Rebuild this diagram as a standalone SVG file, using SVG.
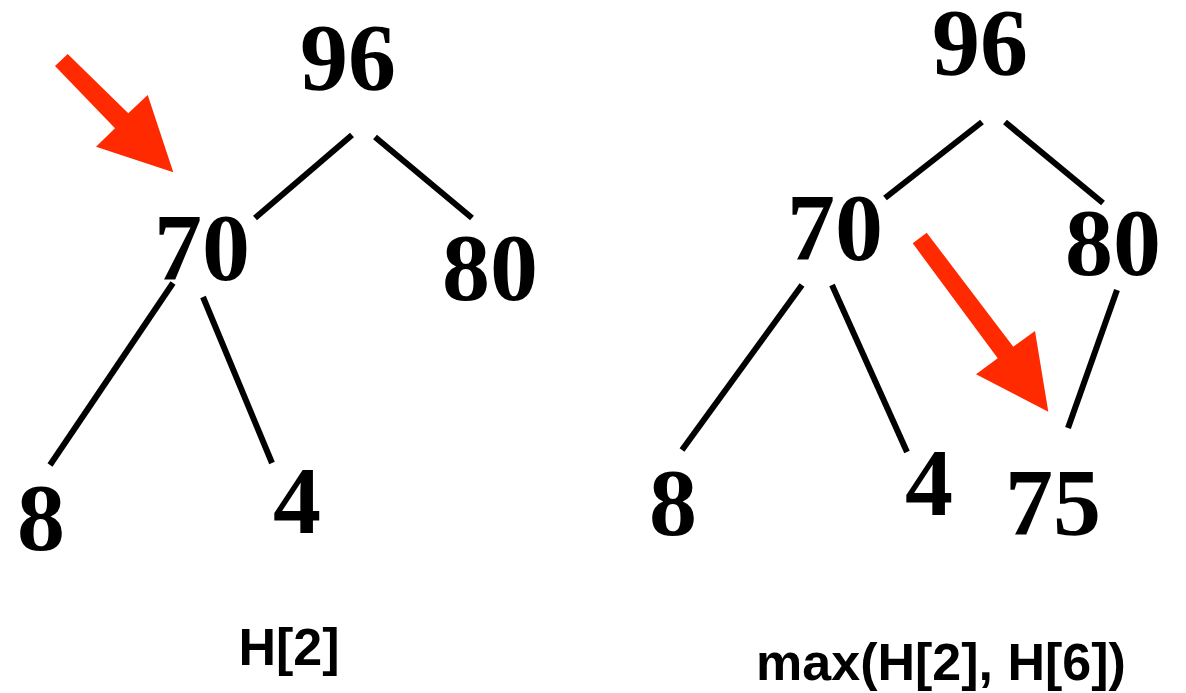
<svg xmlns="http://www.w3.org/2000/svg" width="1186" height="693" viewBox="0 0 1186 693">
<style>
.n{font-family:"Liberation Serif","Times New Roman",serif;font-weight:bold;font-size:96px;fill:#000;text-anchor:middle}
.l{font-family:"Liberation Sans",Arial,sans-serif;font-weight:bold;font-size:52px;fill:#000;text-anchor:middle}
.e{stroke:#000;stroke-width:6;fill:none}
.a{fill:#ff2a00}
</style>
<rect width="1186" height="693" fill="#fff"/>
<g id="connectors">
<line class="e" x1="352" y1="135" x2="255" y2="218"/>
<line class="e" x1="375" y1="137" x2="472" y2="218"/>
<line class="e" x1="173" y1="283" x2="50" y2="465"/>
<line class="e" x1="203" y1="297" x2="272" y2="463"/>
<line class="e" x1="982" y1="122" x2="885" y2="198"/>
<line class="e" x1="1005" y1="122" x2="1103" y2="203"/>
<line class="e" x1="802" y1="285" x2="682" y2="450"/>
<line class="e" x1="832" y1="285" x2="907" y2="452"/>
<line class="e" x1="1117" y1="290" x2="1068" y2="428"/>
</g>
<g id="arrow-left"><polygon class="a" points="55,66 67.7,54 128.3,113.3 147.7,95 173.3,172.3 96,146.7 115,128.3"/></g>
<g id="arrow-right"><polygon class="a" points="912.7,243.3 926.7,232.7 1013.3,346.7 1035,331 1048.3,411.7 976,374.3 997.7,358.3"/></g>
<g id="L96"><text class="n" x="348" y="90">96</text></g>
<g id="L70"><text class="n" x="202" y="280">70</text></g>
<g id="L80"><text class="n" x="490" y="300">80</text></g>
<g id="L8"><text class="n" x="41" y="550">8</text></g>
<g id="L4"><text class="n" x="297" y="533">4</text></g>
<g id="R96"><text class="n" x="980" y="75">96</text></g>
<g id="R70"><text class="n" x="835" y="260">70</text></g>
<g id="R80"><text class="n" x="1113" y="275">80</text></g>
<g id="R8"><text class="n" x="673" y="535">8</text></g>
<g id="R4"><text class="n" x="929" y="515">4</text></g>
<g id="R75"><text class="n" x="1053" y="535">75</text></g>
<g id="label-left"><text class="l" x="289" y="665">H[2]</text></g>
<g id="label-right"><text class="l" x="941" y="680">max(H[2], H[6])</text></g>
</svg>
